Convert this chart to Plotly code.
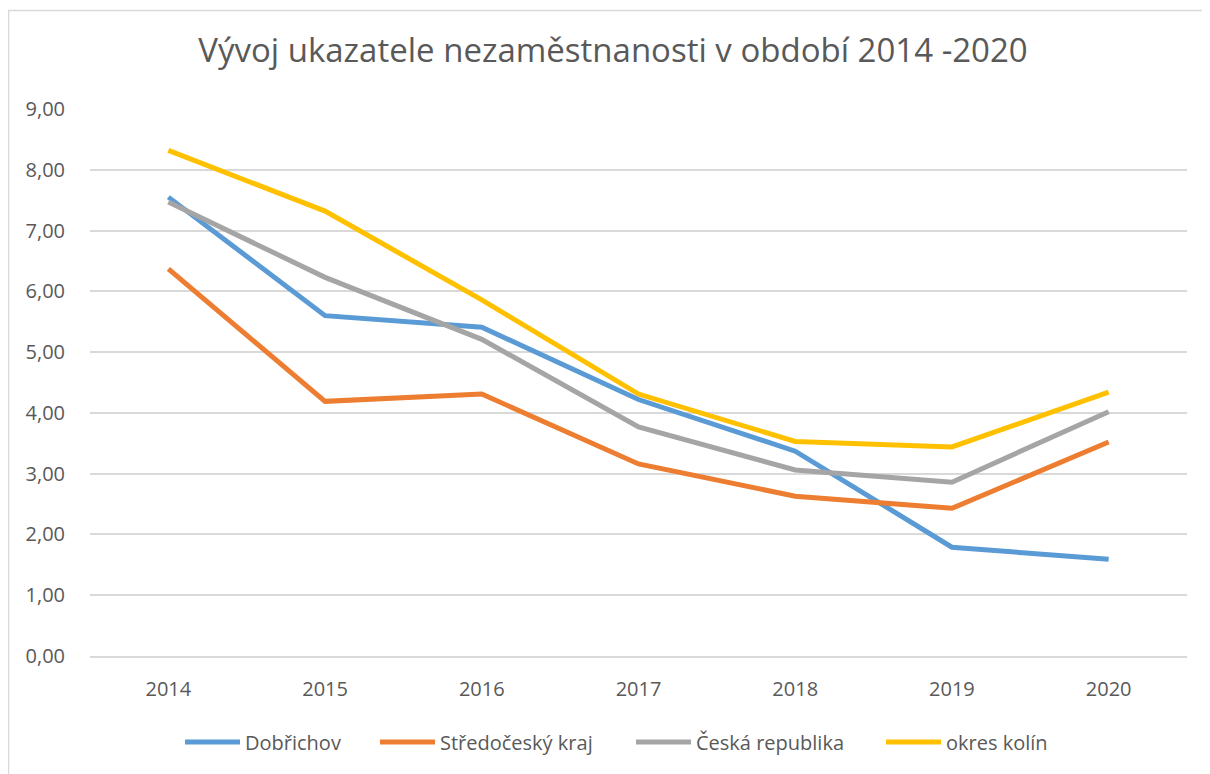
import plotly.graph_objects as go

# data
years = ["2014", "2015", "2016", "2017", "2018", "2019", "2020"]
dobrichov = [7.55, 5.60, 5.41, 4.22, 3.37, 1.79, 1.59]
stredocesky = [6.37, 4.19, 4.31, 3.16, 2.63, 2.43, 3.52]
ceska = [7.47, 6.23, 5.21, 3.77, 3.06, 2.86, 4.02]
kolin = [8.32, 7.32, 5.86, 4.31, 3.53, 3.44, 4.34]

series = [
    ("Dobřichov", dobrichov, "#5B9BD5"),
    ("Středočeský kraj", stredocesky, "#ED7D31"),
    ("Česká republika", ceska, "#A5A5A5"),
    ("okres kolín", kolin, "#FFC000"),
]

# page body has an 8px margin, so offsets are shifted by 8
W, H = 1210, 774
L, R, T, B = 82, 31, 101, 126
pw = W - L - R
ph = H - T - B

legend_px = [177, 372, 628, 878]  # left edge of each legend entry (figure px)

fig = go.Figure()
for i, (name, vals, col) in enumerate(series):
    lg = "legend" if i == 0 else "legend%d" % (i + 1)
    fig.add_trace(go.Scatter(
        x=years, y=vals, name=name, mode="lines",
        line=dict(color=col, width=5),
        legend=lg,
    ))

fig.add_shape(type="rect", xref="paper", yref="paper",
              x0=(0.5 - L) / pw, x1=(W + 60 - L) / pw,
              y0=-(B + 20) / ph, y1=(H - 2.5 - B) / ph,
              line=dict(color="#D9D9D9", width=1.5), fillcolor="rgba(0,0,0,0)",
              layer="below")

legends = {}
for i, px in enumerate(legend_px):
    key = "legend" if i == 0 else "legend%d" % (i + 1)
    legends[key] = dict(
        orientation="h", x=(px - 5 - L) / pw, xanchor="left",
        y=-(734 - T - ph) / ph, yanchor="middle",
        font=dict(size=20, color="#595959"), itemwidth=55,
        bgcolor="rgba(0,0,0,0)",
    )

fig.update_layout(
    width=W, height=H,
    margin=dict(l=L, r=R, t=T, b=B),
    paper_bgcolor="white", plot_bgcolor="white",
    font=dict(family="Open Sans, Noto Sans, sans-serif", size=20, color="#595959"),
    title=dict(text="Vývoj ukazatele nezaměstnanosti v období 2014 -2020",
               x=(613 - 8) / W, xanchor="center", y=1 - 42 / H, yanchor="middle",
               font=dict(size=33, color="#595959")),
    xaxis=dict(type="category", range=[-0.5, 6.5], showgrid=False,
               showline=True, linecolor="#D9D9D9", linewidth=1.5,
               ticks="outside", ticklen=14, tickcolor="white",
               tickfont=dict(size=20)),
    yaxis=dict(range=[0, 9], dtick=1, tickformat=".2f", showgrid=True,
               gridcolor="#D9D9D9", gridwidth=1.5, zeroline=False,
               showline=False, ticks="outside", ticklen=20, tickcolor="white",
               tickfont=dict(size=20)),
    separators=", ",
    showlegend=True,
    **legends,
)

fig.write_html("out.html")
